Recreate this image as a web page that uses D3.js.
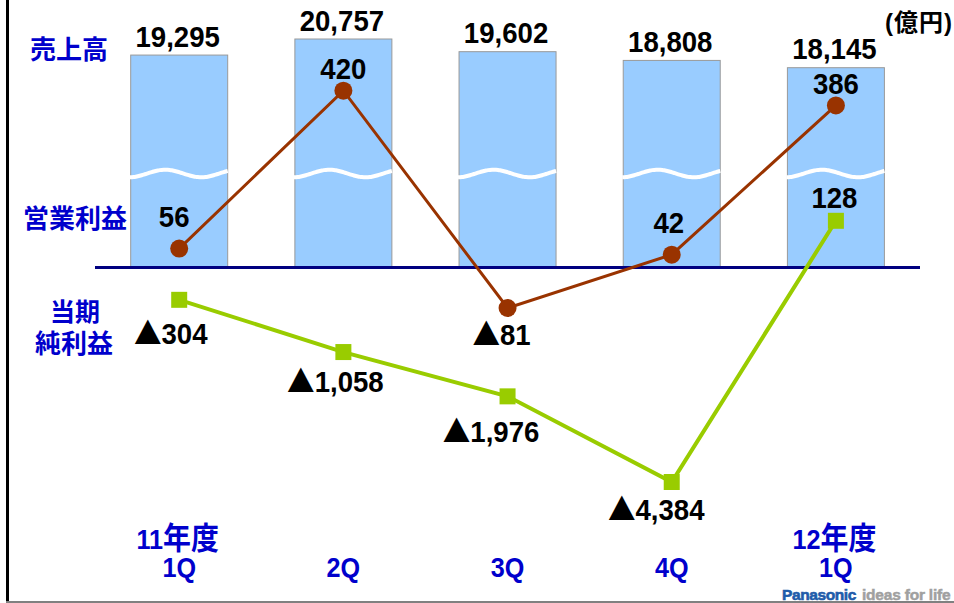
<!DOCTYPE html>
<html><head><meta charset="utf-8">
<script src="https://cdn.jsdelivr.net/npm/d3@7"></script>
<style>html,body{margin:0;padding:0;background:#fff;overflow:hidden}</style>
</head><body>
<svg id="c" width="954" height="603"></svg>
<script>
// ---- data ----
const quarterTop = ["11年度", "", "", "", "12年度"];
const quarterBottom = ["1Q", "2Q", "3Q", "4Q", "1Q"];
const sales = [19295, 20757, 19602, 18808, 18145];
const operatingProfit = [56, 420, -81, 42, 386];
const netIncome = [-304, -1058, -1976, -4384, 128];

// ---- label placement (layout only) ----
const opLabelOffset = [[-5, -22], [0, -12], [-6, 37], [-3, -22], [0, -11]];
const netLabelOffset = [[-8.5, 44], [-8, 40], [-16.5, 46], [-15.5, 38], [-1.5, -13]];

const svg = d3.select("#c");
const NUM = "'Liberation Sans', Arial, 'DejaVu Sans', sans-serif";
const CJK = "'Noto Sans CJK JP', sans-serif";
const BLUE = "#0000CC";

const idx = d3.range(sales.length);
const x = d3.scalePoint().domain(idx).range([179.2, 835.9]);
const ySales = d3.scaleLinear().domain([18145, 20757]).range([67.7, 39]);
const yOp = d3.scaleLinear().domain([-81, 420]).range([308, 90.7]);
const yNet = d3.scalePow().exponent(0.58).domain([0, -4384]).range([250.6, 482]);
const baseY = 267.5;
const barW = 97;
const num = d3.format(",");

// frame
svg.append("line").attr("x1", 7.5).attr("x2", 7.5).attr("y1", 0).attr("y2", 603)
  .attr("stroke", "#000").attr("stroke-width", 3);
svg.append("line").attr("x1", 6).attr("x2", 954).attr("y1", 602).attr("y2", 602)
  .attr("stroke", "#808080").attr("stroke-width", 2);

// bars
svg.selectAll("rect.bar").data(idx).join("rect").attr("class", "bar")
  .attr("x", i => x(i) - barW / 2).attr("width", barW)
  .attr("y", i => ySales(sales[i])).attr("height", i => baseY - ySales(sales[i]))
  .attr("fill", "#99CCFF").attr("stroke", "#999999").attr("stroke-width", 1);

// break waves
const wave = d3.line().curve(d3.curveBasis);
idx.forEach(i => {
  const x0 = x(i) - barW / 2 - 1;
  const pts = d3.range(0, barW + 2.01, 2).map(u => [x0 + u, 173.5 - 3.8 * Math.sin(2 * Math.PI * (u - 17.5) / 72)]);
  svg.append("path").attr("d", wave(pts)).attr("fill", "none")
    .attr("stroke", "#fff").attr("stroke-width", 4);
});

// baseline
svg.append("line").attr("x1", 95).attr("x2", 920).attr("y1", baseY).attr("y2", baseY)
  .attr("stroke", "#000080").attr("stroke-width", 3);

// lines
const opLine = d3.line().x(i => x(i)).y(i => yOp(operatingProfit[i]));
const netLine = d3.line().x(i => x(i)).y(i => yNet(netIncome[i]));
svg.append("path").attr("d", netLine(idx)).attr("fill", "none").attr("stroke", "#99CC00").attr("stroke-width", 4);
svg.append("path").attr("d", opLine(idx)).attr("fill", "none").attr("stroke", "#993300").attr("stroke-width", 3);

svg.selectAll("rect.net").data(idx).join("rect").attr("class", "net")
  .attr("x", i => x(i) - 8).attr("y", i => yNet(netIncome[i]) - 8)
  .attr("width", 16).attr("height", 16).attr("fill", "#99CC00");
svg.selectAll("circle.op").data(idx).join("circle").attr("class", "op")
  .attr("cx", i => x(i)).attr("cy", i => yOp(operatingProfit[i])).attr("r", 9)
  .attr("fill", "#993300");

// text helper
function numText(px, py, value, size, sx, color) {
  const t = svg.append("g").attr("transform", `translate(${px},${py}) scale(${sx},1)`)
    .append("text").attr("text-anchor", "middle")
    .attr("font-family", NUM).attr("font-weight", "bold").attr("font-size", size)
    .attr("fill", color || "#000");
  if (typeof value === "number") {
    if (value < 0) t.append("tspan").attr("font-family", CJK).attr("font-size", size).text("▲");
    t.append("tspan").text(num(Math.abs(value)));
  } else {
    t.text(value);
  }
  return t;
}

// value labels
idx.forEach(i => {
  numText(x(i) - 1.5, ySales(sales[i]) - 8.5, sales[i], 30, 0.92);
  numText(x(i) + opLabelOffset[i][0], yOp(operatingProfit[i]) + opLabelOffset[i][1], operatingProfit[i], 30, 0.92);
  numText(x(i) + netLabelOffset[i][0], yNet(netIncome[i]) + netLabelOffset[i][1], netIncome[i], 30, 0.92);
});

// x category labels
idx.forEach(i => {
  if (quarterTop[i]) {
    const t = svg.append("g").attr("transform", `translate(${x(i) - 1.5},549) scale(0.9,1)`)
      .append("text").attr("text-anchor", "middle").attr("font-weight", "bold")
      .attr("font-size", 28).attr("fill", BLUE).attr("font-family", NUM);
    const m = quarterTop[i].match(/^(\d+)(.*)$/);
    t.append("tspan").text(m[1]);
    t.append("tspan").attr("font-family", CJK).attr("font-size", 31).text(m[2]);
  }
  numText(x(i), 577, quarterBottom[i], 28, 0.9, BLUE);
});

// row labels
function jp(px, py, txt, size) {
  svg.append("text").attr("x", px).attr("y", py).attr("text-anchor", "middle")
    .attr("font-family", CJK).attr("font-weight", "bold").attr("font-size", size)
    .attr("fill", BLUE).text(txt);
}
jp(69, 59, "売上高", 26);
jp(75, 228, "営業利益", 26);
jp(75, 321, "当期", 25);
jp(74, 353, "純利益", 26);

// unit
svg.append("text").attr("x", 953).attr("y", 31).attr("text-anchor", "end")
  .attr("font-family", NUM + "," + CJK).attr("font-weight", "bold").attr("font-size", 24)
  .attr("letter-spacing", 1).attr("fill", "#000").text("(億円)");

// logo
const logo = svg.append("text").attr("x", 782).attr("y", 599.5)
  .attr("font-family", NUM).attr("font-weight", "bold").attr("font-size", 15.5);
logo.append("tspan").attr("fill", "#1F5CAA").attr("stroke", "#1F5CAA").attr("stroke-width", 0.6)
  .attr("letter-spacing", -0.4).text("Panasonic");
logo.append("tspan").attr("dx", 6).attr("fill", "#A0A0A0").attr("stroke", "#A0A0A0").attr("stroke-width", 0.5)
  .attr("letter-spacing", -0.2).text("ideas for life");
</script>
</body></html>
